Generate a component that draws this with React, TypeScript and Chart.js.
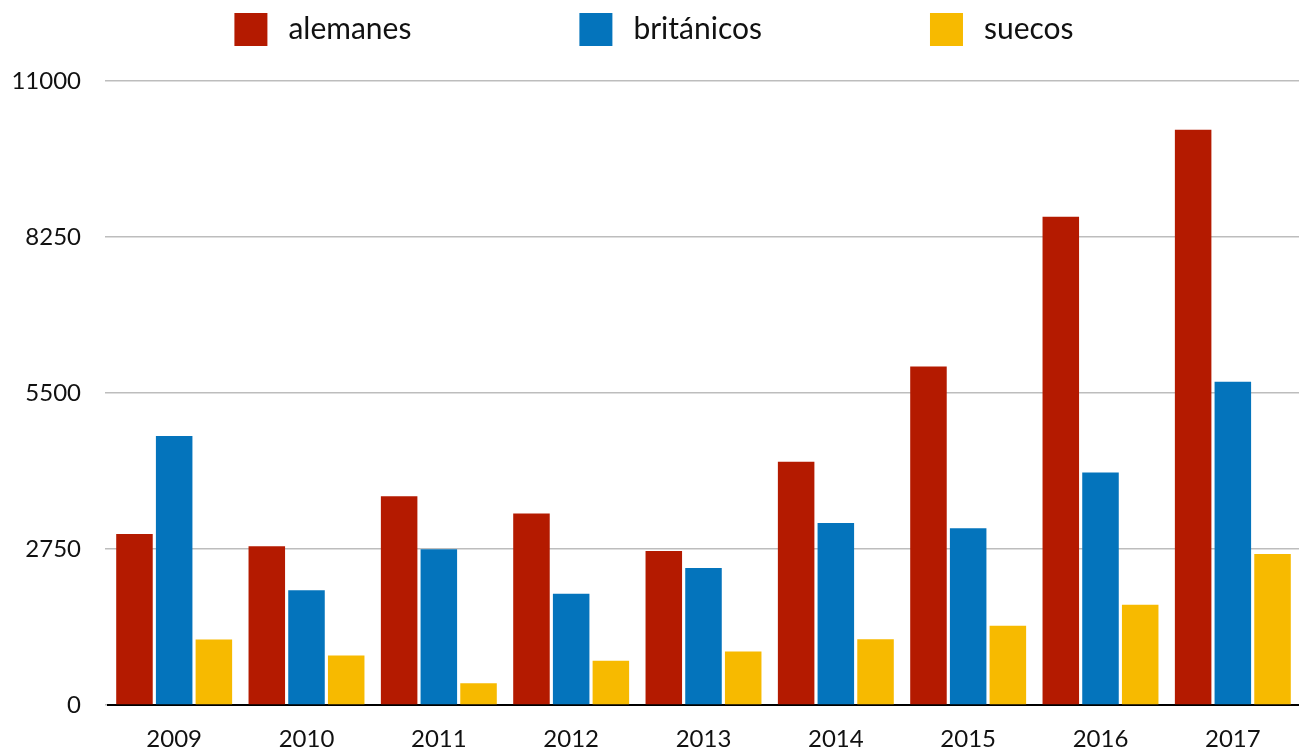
import React, { useEffect, useRef } from "react";
import { Chart, registerables } from "chart.js";

Chart.register(...registerables);

const years = ["2009", "2010", "2011", "2012", "2013", "2014", "2015", "2016", "2017"];
const alemanes = [3015, 2800, 3680, 3375, 2715, 4290, 5965, 8605, 10140];
const britanicos = [4740, 2025, 2745, 1960, 2415, 3207, 3115, 4098, 5698];
const suecos = [1155, 872, 385, 782, 945, 1160, 1398, 1768, 2660];
const yTicks = [0, 2750, 5500, 8250, 11000];
const seriesNames = ["alemanes", "británicos", "suecos"];
const seriesColors = ["#B41A00", "#0474BC", "#F7BA00"];

const FONT = "Lato, 'Open Sans', sans-serif";

const legendPlugin = {
  id: "topLegend",
  afterDraw(chart: any) {
    const ctx = chart.ctx;
    const box = 33;
    const gapText = 21;
    const gapItems = 168;
    ctx.save();
    ctx.font = `30px ${FONT}`;
    const widths = chart.data.datasets.map((d: any) => box + gapText + ctx.measureText(d.label).width);
    const total = widths.reduce((a: number, b: number) => a + b, 0) + gapItems * (widths.length - 1);
    let x = 654 - total / 2;
    const top = 13;
    chart.data.datasets.forEach((d: any, i: number) => {
      ctx.fillStyle = d.backgroundColor;
      ctx.fillRect(x, top, box, box);
      ctx.fillStyle = "#111";
      ctx.textBaseline = "middle";
      ctx.textAlign = "left";
      ctx.fillText(d.label, x + box + gapText, top + box / 2);
      x += widths[i] + gapItems;
    });
    ctx.restore();
  },
};

export default function App() {
  const ref = useRef<HTMLCanvasElement | null>(null);

  useEffect(() => {
    if (!ref.current) return;
    const chart = new Chart(ref.current, {
      type: "bar",
      data: {
        labels: years,
        datasets: [
          { label: seriesNames[0], data: alemanes, backgroundColor: seriesColors[0] },
          { label: seriesNames[1], data: britanicos, backgroundColor: seriesColors[1] },
          { label: seriesNames[2], data: suecos, backgroundColor: seriesColors[2] },
        ],
      },
      options: {
        animation: false,
        responsive: false,
        maintainAspectRatio: false,
        layout: { padding: { top: 81, right: 0, bottom: 0, left: 0 } },
        datasets: { bar: { categoryPercentage: 0.9, barPercentage: 0.92 } },
        plugins: {
          tooltip: { enabled: false },
          legend: { display: false },
        },
        scales: {
          x: {
            afterFit: (axis: any) => {
              axis.height = 48;
            },
            grid: { display: false, drawTicks: false },
            border: { display: true, color: "#000", width: 2 },
            ticks: {
              color: "#111",
              padding: 20,
              font: { family: FONT, size: 24 },
            },
          },
          y: {
            min: 0,
            max: 11000,
            afterBuildTicks: (axis: any) => {
              axis.ticks = yTicks.map((v) => ({ value: v }));
            },
            afterFit: (axis: any) => {
              axis.width = 108;
            },
            grid: { color: "#BDBDBD", lineWidth: 1.5, tickLength: 3 },
            border: { display: false },
            ticks: {
              color: "#111",
              padding: 24,
              font: { family: FONT, size: 24 },
              callback: (v: any) => String(v),
            },
          },
        },
      },
      plugins: [legendPlugin],
    });
    return () => chart.destroy();
  }, []);

  return (
    <div style={{ position: "fixed", left: 0, top: 0, width: 1299, height: 753, background: "#fff" }}>
      <canvas ref={ref} width={1299} height={753} style={{ width: 1299, height: 753 }} />
    </div>
  );
}
